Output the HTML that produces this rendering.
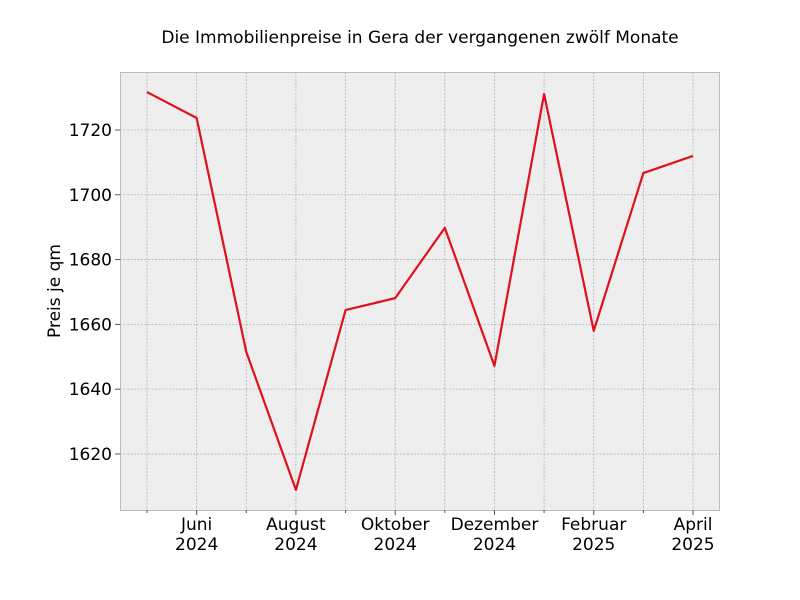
<!DOCTYPE html>
<html><head><meta charset="utf-8"><style>
body{margin:0;background:#fff}
svg{display:block;font-family:"DejaVu Sans","Liberation Sans",sans-serif}
</style></head><body>
<svg id="chart" width="800" height="600">
<rect width="800" height="600" fill="#fff"/>
<text x="420" y="43" text-anchor="middle" font-size="17" fill="#000">Die Immobilienpreise in Gera der vergangenen zwölf Monate</text>
<rect x="120.5" y="72.5" width="599" height="438" fill="#eeeeee" stroke="#bcbcbc"/>
<g id="grid"></g><g id="axes"></g><g id="series"></g>
<text transform="translate(60,291) rotate(-90)" text-anchor="middle" font-size="17">Preis je qm</text>
</svg>
<script>
const months = ["Mai 2024","Juni 2024","Juli 2024","August 2024","September 2024","Oktober 2024","November 2024","Dezember 2024","Januar 2025","Februar 2025","März 2025","April 2025"];
const prices = [1731.7,1723.7,1651.5,1608.9,1664.4,1668.1,1689.8,1647.2,1731.1,1658.0,1706.7,1712.0];
const xTickMonth = ["Juni","August","Oktober","Dezember","Februar","April"];
const xTickYear = ["2024","2024","2024","2024","2025","2025"];
const xTickIndex = [1,3,5,7,9,11];
const yTicks = [1620,1640,1660,1680,1700,1720];
const yMin = 1602.7, yMax = 1737.9;
const NS="http://www.w3.org/2000/svg";
const L=120,R=720,T=72,B=510;
const x=i=>147+i*(693-147)/(months.length-1);
const y=v=>B-(v-yMin)/(yMax-yMin)*(B-T);
function mk(tag,attrs,parent){const e=document.createElementNS(NS,tag);for(const k in attrs)e.setAttribute(k,attrs[k]);parent.appendChild(e);return e;}
const grid=document.getElementById('grid'),axes=document.getElementById('axes'),series=document.getElementById('series');
yTicks.forEach(v=>{
 const g=mk('line',{x1:L,x2:R,y1:y(v),y2:y(v),stroke:'#b2b2b2','stroke-width':0.8,'stroke-dasharray':'2,1.5'},grid);
 
 
 const t=mk('line',{x1:L-5,x2:L,y1:y(v),y2:y(v),stroke:'#555'},axes);
 
 
 const tx=mk('text',{x:L-8,y:y(v)+6,'text-anchor':'end','font-size':17},axes);
 tx.textContent=v;
 
 
});
months.forEach((m,i)=>{
 const g=mk('line',{x1:x(i),x2:x(i),y1:T,y2:B,stroke:'#b2b2b2','stroke-width':0.8,'stroke-dasharray':'2,1.5'},grid);
 
 
 const t=mk('line',{x1:x(i),x2:x(i),y1:B,y2:B+(xTickIndex.includes(i)?5:3),stroke:'#555'},axes);
 
 
});
xTickIndex.forEach((idx,k)=>{
 const a=mk('text',{x:x(idx),y:B+20,'text-anchor':'middle','font-size':17},axes);
 a.textContent=xTickMonth[k];
 
 
 const b=mk('text',{x:x(idx),y:B+40,'text-anchor':'middle','font-size':17},axes);
 b.textContent=xTickYear[k];
 
 
});
const p=mk('polyline',{points:prices.map((v,i)=>x(i)+','+y(v)).join(' '),fill:'none',stroke:'#e0101c','stroke-width':2.2,'stroke-linejoin':'round'},series);


</script>
</body></html>
